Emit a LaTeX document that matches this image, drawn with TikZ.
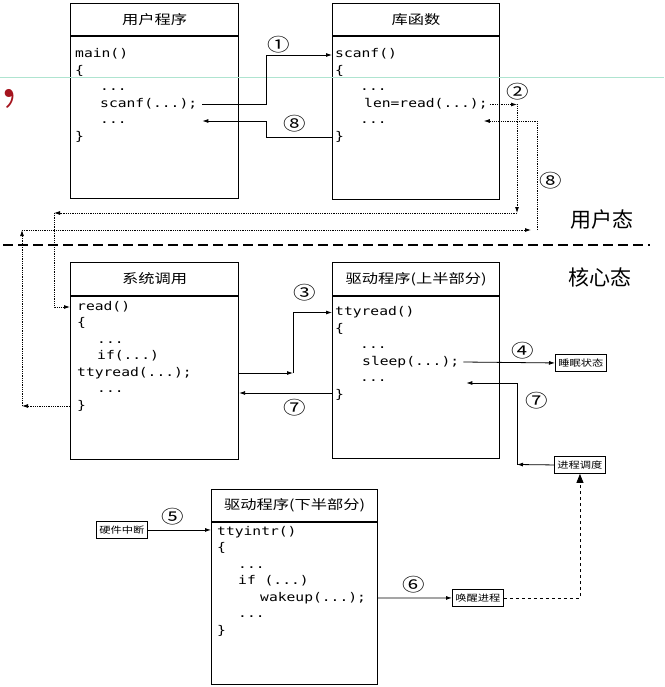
\documentclass[tikz,border=0pt]{standalone}
\usepackage{fontspec}
\setmonofont[FakeStretch=1.22]{DejaVu Sans Mono}
\newfontfamily\cjk[FakeStretch=1.25]{Noto Sans CJK SC}
\newfontfamily\cjkn{Noto Sans CJK SC}
\usetikzlibrary{arrows.meta}
\definecolor{gridgreen}{RGB}{175,228,208}
\definecolor{commared}{RGB}{165,20,30}

\begin{document}
\begin{tikzpicture}[x=1pt, y=-1pt,
  head/.style={draw, line width=1.1pt, inner sep=0pt, anchor=north west, font=\cjk\fontsize{13}{13}\selectfont},
  body/.style={draw, line width=1.1pt, inner sep=0pt, anchor=north west},
  code/.style={inner sep=0pt, anchor=west, text height=9pt, text depth=3pt, font=\ttfamily\fontsize{12}{14}\selectfont},
  tag/.style={draw, line width=0.9pt, inner sep=0pt, minimum width=51, minimum height=17, anchor=north west, font=\cjk\fontsize{9}{9}\selectfont},
  num/.style={inner sep=0pt, font=\cjk\fontsize{18}{18}\selectfont},
  mode/.style={inner sep=0pt, font=\cjkn\fontsize{21}{21}\selectfont},
  flow/.style={-{Latex[length=6pt,width=4pt]}, line width=0.8pt},
  dotflow/.style={flow, densely dotted}]

\useasboundingbox (0,0) rectangle (664,687);

\node[head, minimum width=168, minimum height=32] (userhead) at (70,3) {用户程序};
\node[body, minimum width=168, minimum height=162] (userbody) at (userhead.south west) {};
\node[head, minimum width=167, minimum height=32] (libhead) at (332,3) {库函数};
\node[body, minimum width=167, minimum height=163] (libbody) at (libhead.south west) {};
\node[head, minimum width=168, minimum height=33] (syshead) at (70,262) {系统调用};
\node[body, minimum width=168, minimum height=163] (sysbody) at (syshead.south west) {};
\node[head, minimum width=167, minimum height=33] (drvhead) at (332,262) {驱动程序(上半部分)};
\node[body, minimum width=167, minimum height=162] (drvbody) at (drvhead.south west) {};
\node[head, minimum width=166, minimum height=32] (lowhead) at (211,489) {驱动程序(下半部分)};
\node[body, minimum width=166, minimum height=162] (lowbody) at (lowhead.south west) {};

\node[code] (umain) at (75,55) {main()};
\node[code] (uopen) at (75,71.5) {\{};
\node[code] (udotsa) at (100,88) {...};
\node[code] (uscanf) at (100,104.5) {scanf(...);};
\node[code] (udotsb) at (100,121) {...};
\node[code] (uclose) at (75,137.5) {\}};

\node[code] (lscanf) at (335,55) {scanf()};
\node[code] (lopen) at (335,71.5) {\{};
\node[code] (ldotsa) at (360,88) {...};
\node[code] (lread) at (364,104.5) {len=read(...);};
\node[code] (ldotsb) at (360,121) {...};
\node[code] (lclose) at (335,137.5) {\}};

\node[code] (sread) at (77,307) {read()};
\node[code] (sopen) at (77,323.5) {\{};
\node[code] (sdotsa) at (97,340) {...};
\node[code] (sif) at (97,356.5) {if(...)};
\node[code] (scall) at (77,373) {ttyread(...);};
\node[code] (sdotsb) at (97,389.5) {...};
\node[code] (sclose) at (77,406) {\}};

\node[code] (dtop) at (335,312.5) {ttyread()};
\node[code] (dopen) at (335,329) {\{};
\node[code] (ddotsa) at (360,345.5) {...};
\node[code] (dsleep) at (362,362) {sleep(...);};
\node[code] (ddotsb) at (360,378.5) {...};
\node[code] (dclose) at (335,395) {\}};

\node[code] (itop) at (217,532) {ttyintr()};
\node[code] (iopen) at (217,548.5) {\{};
\node[code] (idotsa) at (238,565) {...};
\node[code] (iif) at (238,581.5) {if (...)};
\node[code] (iwake) at (260,598) {wakeup(...);};
\node[code] (idotsb) at (238,614.5) {...};
\node[code] (iclose) at (217,631) {\}};

\node[tag] (sleepst) at (555,354) {睡眠状态};
\node[tag] (sched) at (554,456) {进程调度};
\node[tag] (wake) at (452,589) {唤醒进程};
\node[tag] (hwint) at (96,521) {硬件中断};

\node[mode] (usermode) at (602,220) {用户态};
\node[mode] (kernmode) at (600,277) {核心态};

\node[num] (n1) at (279,45) {①};
\node[num] (n8a) at (295,124) {⑧};
\node[num] (n2) at (518,92) {②};
\node[num] (n8b) at (551,181) {⑧};
\node[num] (n3) at (305,293) {③};
\node[num] (n7a) at (295,408) {⑦};
\node[num] (n4) at (523,351) {④};
\node[num] (n7b) at (537,401) {⑦};
\node[num] (n5) at (173,517) {⑤};
\node[num] (n6) at (414,585) {⑥};

\node[text=commared, inner sep=0pt, anchor=base west, font=\fontsize{56}{56}\bfseries\selectfont] (mark) at (0,98) {,};

\coordinate (j1) at (266,55);
\coordinate (j8) at (266,121);
\coordinate (uret) at ([xshift=5pt]uscanf.east |- udotsb.west);
\coordinate (d2a) at (517,104.5);
\coordinate (d2b) at (517,213);
\coordinate (d2c) at (54,213);
\coordinate (d8a) at (22,406);
\coordinate (d8b) at (22,230);
\coordinate (d8c) at (537,230);
\coordinate (lret) at ([xshift=-4pt]lread.east |- ldotsb.west);
\coordinate (j3) at (293,373);
\coordinate (j7) at (300,393);
\coordinate (j7b) at (517,464.5);
\coordinate (dret) at ([xshift=7pt]dsleep.east |- 0,383);

\draw[gridgreen, line width=0.6pt] (0,77) -- (664,77);
\draw[line width=2pt, dash pattern=on 10pt off 5pt] (3,245) -- (650,245);

\draw[flow] ([xshift=5pt]uscanf.east) -| (j1) -- (libbody.west |- lscanf);
\draw[flow] (libbody.west |- lclose) -| (j8) -- (uret);
\draw[dotflow] ([xshift=2pt]lread.east) -- (d2a);
\draw[dotflow] (d2a) -- (d2b);
\draw[dotflow] (d2b) -- (d2c);
\draw[dotflow] (d2c) |- (sysbody.west |- sread);
\draw[dotflow] (sysbody.west |- sclose) -- (d8a);
\draw[dotflow] (d8a) -- (d8b);
\draw[dotflow, shorten >=6pt] (d8b) -- (d8c);
\draw[dotflow] (d8c) |- (lret);
\draw[flow] (sysbody.east |- scall) -- (j3);
\draw[flow] (j3) |- (drvbody.west |- dtop);
\draw[flow] (j7 -| drvbody.west) -- (j7 -| sysbody.east);
\draw[flow] ([xshift=4pt]dsleep.east) -- (sleepst.west);
\draw[flow] (sched.west) -- (j7b);
\draw[flow] (j7b) |- (dret);
\draw[flow] (hwint.east) -- (lowbody.west |- hwint);
\draw[flow] (lowbody.east |- iwake) -- (wake.west);
\draw[dashed, line width=0.8pt, -{Triangle[length=9pt,width=7pt]}] (wake.east) -| (sched.south);

\end{tikzpicture}
\end{document}
